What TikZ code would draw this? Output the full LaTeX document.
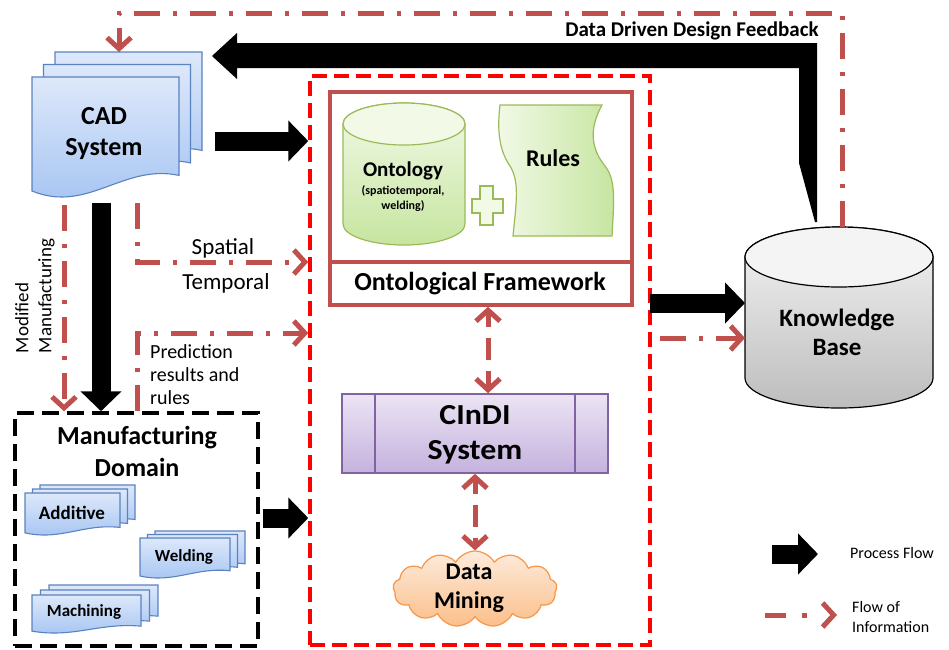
\documentclass[tikz,border=0pt]{standalone}
\usepackage{fontspec}
\setmainfont{Carlito}
\usetikzlibrary{arrows.meta,shapes.symbols,calc}
\definecolor{infored}{HTML}{C0504D}
\definecolor{docline}{HTML}{5A82C0}
\definecolor{doctop}{HTML}{DDE8FA}
\definecolor{docbot}{HTML}{A2C2F2}
\definecolor{grline}{HTML}{9BBB59}
\definecolor{grtop}{HTML}{F2F9E6}
\definecolor{grbot}{HTML}{C6E5A0}
\definecolor{pline}{HTML}{8064A2}
\definecolor{ptop}{HTML}{ECE4F4}
\definecolor{pbot}{HTML}{C4B2DE}
\definecolor{oline}{HTML}{F79646}
\definecolor{otop}{HTML}{FDEBDC}
\definecolor{obot}{HTML}{FBBF8A}
\definecolor{gtop}{HTML}{F4F4F4}
\definecolor{gbot}{HTML}{BDBDBD}
\newcommand{\fsz}[2]{\fontsize{#1}{#2}\selectfont}
\newcommand{\docpage}[4]{%
  \path[draw=docline, line width=1.1pt, top color=doctop, bottom color=docbot]
  ({#1},{#2}) -- ({#1+#3},{#2}) -- ({#1+#3},{#2+0.82*#4})
  .. controls ({#1+0.62*#3},{#2+0.72*#4}) and ({#1+0.38*#3},{#2+1.14*#4}) ..
  ({#1},{#2+0.95*#4}) -- cycle;}
\newcommand{\docstack}[6]{%
  \docpage{#1+2*#5}{#2-2*#6}{#3}{#4}%
  \docpage{#1+#5}{#2-#6}{#3}{#4}%
  \docpage{#1}{#2}{#3}{#4}}
\tikzset{
  lbl/.style={align=center, inner sep=0pt},
  info/.style={draw=infored, line width=5pt, dash pattern=on 26pt off 13pt on 4pt off 13pt},
  chev/.style={-{Straight Barb[length=11pt,width=24pt]}},
  dchev/.style={{Straight Barb[length=11pt,width=24pt]}-{Straight Barb[length=11pt,width=24pt]}, dash pattern=on 14pt off 11pt on 22pt off 11pt on 40pt},
  proc/.style={draw=black, line width=19pt, -{Triangle[length=20pt,width=40pt]}},
}
\begin{document}
\begin{tikzpicture}[x=1pt,y=-1pt]
\useasboundingbox (0,0) rectangle (949,649);

% ---------- CAD system ----------
\docstack{32}{77}{147}{120}{11.5}{12.5}
\node[lbl, font=\bfseries\fsz{26}{31}] (cad) at (104,134) {CAD\\System};

% ---------- Red dashed frame ----------
\node[draw=red, line width=3.5pt, dash pattern=on 15pt off 7pt, minimum width=340pt, minimum height=569pt, inner sep=0] (redbox) at (480,360.5) {};

% ---------- Ontological framework ----------
\node[draw=infored, line width=3.5pt, minimum width=302pt, minimum height=213pt, inner sep=0] (ofbox) at (481,198.5) {};
\draw[draw=infored, line width=3.5pt] (ofbox.west |- 0,262) -- (ofbox.east |- 0,262);
\node[lbl, font=\bfseries\fsz{26}{30}] (oftext) at (480,284) {Ontological Framework};

% ontology cylinder
\path[draw=grline, line width=1.2pt, top color=grtop, bottom color=grbot]
  (343,124) -- (343,224) arc[start angle=180, end angle=360, x radius=61pt, y radius=21pt]
  -- (465,124) arc[start angle=0, end angle=180, x radius=61pt, y radius=21pt] -- cycle;
\draw[draw=grline, line width=1.2pt, fill=grtop] (404,124) ellipse[x radius=61pt, y radius=21pt];
\node[lbl, font=\bfseries\fsz{21}{24}] (onto) at (403,171) {Ontology};
\node[lbl, font=\bfseries\fsz{12}{15}] (ontosub) at (403,199) {(spatiotemporal,\\welding)};

% plus sign
\path[draw=grline, line width=1.2pt, fill=grtop]
  (480,186) -- (493,186) -- (493,199) -- (503,199) -- (503,213) -- (493,213) -- (493,225)
  -- (480,225) -- (480,213) -- (472,213) -- (472,199) -- (480,199) -- cycle;

% rules shape
\path[draw=grline, line width=1.2pt, left color=grtop, right color=grbot]
  (500,105) -- (602,105)
  .. controls (588,130) and (592,150) .. (605,166)
  .. controls (616,180) and (614,200) .. (612,236)
  -- (513,236)
  .. controls (516,205) and (520,182) .. (510,166)
  .. controls (499,150) and (497,130) .. (500,105) -- cycle;
\node[lbl, font=\bfseries\fsz{24}{28}] (rules) at (553,158) {Rules};

% ---------- CInDI ----------
\node[draw=pline, line width=1.6pt, top color=ptop, bottom color=pbot, minimum width=266pt, minimum height=79pt, inner sep=0] (cindi) at (475,433.5) {};
\draw[draw=pline, line width=1.6pt] (375,394) -- (375,473) (575,394) -- (575,473);
\node[lbl, font=\bfseries\fsz{29}{35}] (cinditext) at (475,435) {\scalebox{1.1}[1]{CInDI}\\\scalebox{1.1}[1]{System}};

% ---------- Data mining ----------
\node[cloud, cloud puffs=13, cloud puff arc=120, aspect=2.1, draw=oline, line width=1.2pt, top color=otop, bottom color=obot, minimum width=164pt, minimum height=76pt, inner sep=0] (dm) at (475,589) {};
\node[lbl, font=\bfseries\fsz{24}{29}] (dmtext) at (469,588) {Data\\Mining};

% ---------- Knowledge base ----------
\path[draw=black, line width=1.2pt, top color=gtop, bottom color=gbot]
  (745,257) -- (745,378) arc[start angle=180, end angle=360, x radius=94pt, y radius=30pt]
  -- (933,257) arc[start angle=0, end angle=180, x radius=94pt, y radius=30pt] -- cycle;
\draw[draw=black, line width=1.2pt, fill=gtop] (839,257) ellipse[x radius=94pt, y radius=30pt];
\node[lbl, font=\bfseries\fsz{25}{29}] (kb) at (837,332) {Knowledge\\Base};
\coordinate (kbtop) at (839,227);
\coordinate (kbwest) at (745,303);

% ---------- Manufacturing domain ----------
\node[draw=black, line width=3.5pt, dash pattern=on 17pt off 8pt, minimum width=243pt, minimum height=233pt, inner sep=0] (md) at (136.5,529.5) {};
\node[lbl, font=\bfseries\fsz{26}{32}] (mdtext) at (137,451) {Manufacturing\\Domain};
\docstack{25}{493}{95}{42}{7.5}{4}
\node[lbl, font=\bfseries\fsz{19}{22}] (add) at (72,513) {Additive};
\docstack{140}{538}{90}{40}{7.5}{3.5}
\node[lbl, font=\bfseries\fsz{17}{20}] (weld) at (184,557) {Welding};
\docstack{32}{595}{109}{38}{8.5}{5}
\node[lbl, font=\bfseries\fsz{17}{20}] (mach) at (84,612) {Machining};

% ---------- Process flow arrows ----------
\coordinate (cadE) at (215,141);
\draw[proc] (cadE) -- (redbox.west |- cadE);
\coordinate (cadS) at (101,203);
\draw[proc] (cadS) -- (cadS |- md.north);
\coordinate (mdE) at (263,518);
\draw[proc] (mdE) -- (redbox.west |- mdE);
\coordinate (ofE) at (650,303);
\draw[proc] (ofE) -- (kbwest);
% feedback arrow
\path[fill=black] (817,43) -- (817,222) -- (815,222) -- (799,163) -- (799,68) -- (237,68)
  -- (237,79) -- (212,56) -- (237,33) -- (237,43) -- cycle;
\node[lbl, font=\bfseries\fsz{21}{24}] (fbtext) at (692,31) {Data Driven Design Feedback};

% ---------- Information flow arrows ----------
\coordinate (topL) at (119,13);
\coordinate (cadN) at (119,52);
\draw[info, chev] (kbtop -| 842,0) -- (842,13) -- (topL) -- (cadN);
\coordinate (cadSW) at (64,205);
\draw[info, chev] (cadSW) -- (cadSW |- md.north);
\coordinate (sp0) at (137,203);
\draw[info, chev] (sp0) -- (137,262) -- (redbox.west |- 0,262);
\coordinate (pr0) at (137,411);
\draw[info, chev] (pr0) -- (137,333) -- (redbox.west |- 0,333);
\draw[info, dchev] (ofbox.south -| 488,0) -- (cindi.north -| 488,0);
\draw[info, dchev] (cindi.south) -- (dm.north);
\coordinate (ofE2) at (660,338);
\draw[info, chev] (ofE2) -- (kbwest |- ofE2);

% ---------- labels ----------
\node[lbl, font=\fsz{23}{27}] (spatial) at (223,248) {Spatial};
\node[lbl, font=\fsz{23}{27}] (temporal) at (226,283) {Temporal};
\node[lbl, align=left, anchor=west, font=\fsz{20}{23}] (pred) at (150,375) {Prediction\\results and\\rules};
\node[lbl, align=left, rotate=90, font=\fsz{19}{23}] (modman) at (35,296) {Modified\\Manufacturing};

% ---------- legend ----------
\coordinate (lg1a) at (772,554);
\coordinate (lg1b) at (818,554);
\draw[proc] (lg1a) -- (lg1b);
\node[lbl, font=\fsz{16}{20}] (lgproc) at (892,553) {Process Flow};
\coordinate (lg2a) at (765,615);
\coordinate (lg2b) at (837,615);
\draw[info, dash pattern=on 21pt off 16pt on 5pt off 30pt, chev] (lg2a) -- (lg2b);
\node[lbl, align=left, anchor=west, font=\fsz{16}{20}] (lginfo) at (852,617) {Flow of\\Information};
\end{tikzpicture}
\end{document}
